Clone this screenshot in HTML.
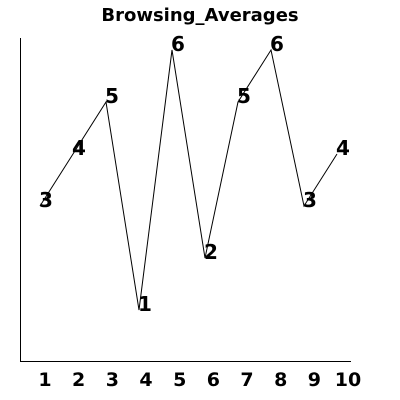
<!DOCTYPE html>
<html><head><style>
html,body{margin:0;padding:0;background:#fff;}
svg{display:block;font-family:"DejaVu Sans","Liberation Sans",sans-serif;}
</style></head><body>
<svg id="chart" width="400" height="400" viewBox="0 0 400 400">
<text x="200" y="21" text-anchor="middle" font-size="18" font-weight="bold">Browsing_Averages</text>
<line x1="20.5" y1="38" x2="20.5" y2="362" stroke="#000"/>
<line x1="20" y1="361.5" x2="351" y2="361.5" stroke="#000"/>
<g id="ticks"></g>
<g id="series"></g>
</svg>
<script>
const categories = [1,2,3,4,5,6,7,8,9,10];
const values = [3,4,5,1,6,2,5,6,3,4];
const tickLabels = ["1","2","3","4","5","6","7","8","9","10"];
const NS="http://www.w3.org/2000/svg";
function xPt(i){return 40+(i-1)*33;}
function xTick(i){return 45+(i-1)*33.67;}
function yPt(v){return 310-(v-1)*52;}
const ticks=document.getElementById('ticks');
tickLabels.forEach((t,k)=>{
  const el=document.createElementNS(NS,'text');
  
  
  el.setAttribute('x',xTick(categories[k]));el.setAttribute('y',386);
  el.setAttribute('text-anchor','middle');el.setAttribute('font-size','19');el.setAttribute('font-weight','bold');
  el.textContent=t;ticks.appendChild(el);
});
const g=document.getElementById('series');
const pl=document.createElementNS(NS,'polyline');


pl.setAttribute('points',values.map((v,k)=>xPt(categories[k])+','+yPt(v)).join(' '));
pl.setAttribute('fill','none');pl.setAttribute('stroke','#000');pl.setAttribute('stroke-width','1');
g.appendChild(pl);
values.forEach((v,k)=>{
  const el=document.createElementNS(NS,'text');
  
  
  el.setAttribute('x',xPt(categories[k])-1);el.setAttribute('y',yPt(v)+1);
  el.setAttribute('font-size','20');el.setAttribute('font-weight','bold');
  el.textContent=v;g.appendChild(el);
});
</script>
</body></html>
